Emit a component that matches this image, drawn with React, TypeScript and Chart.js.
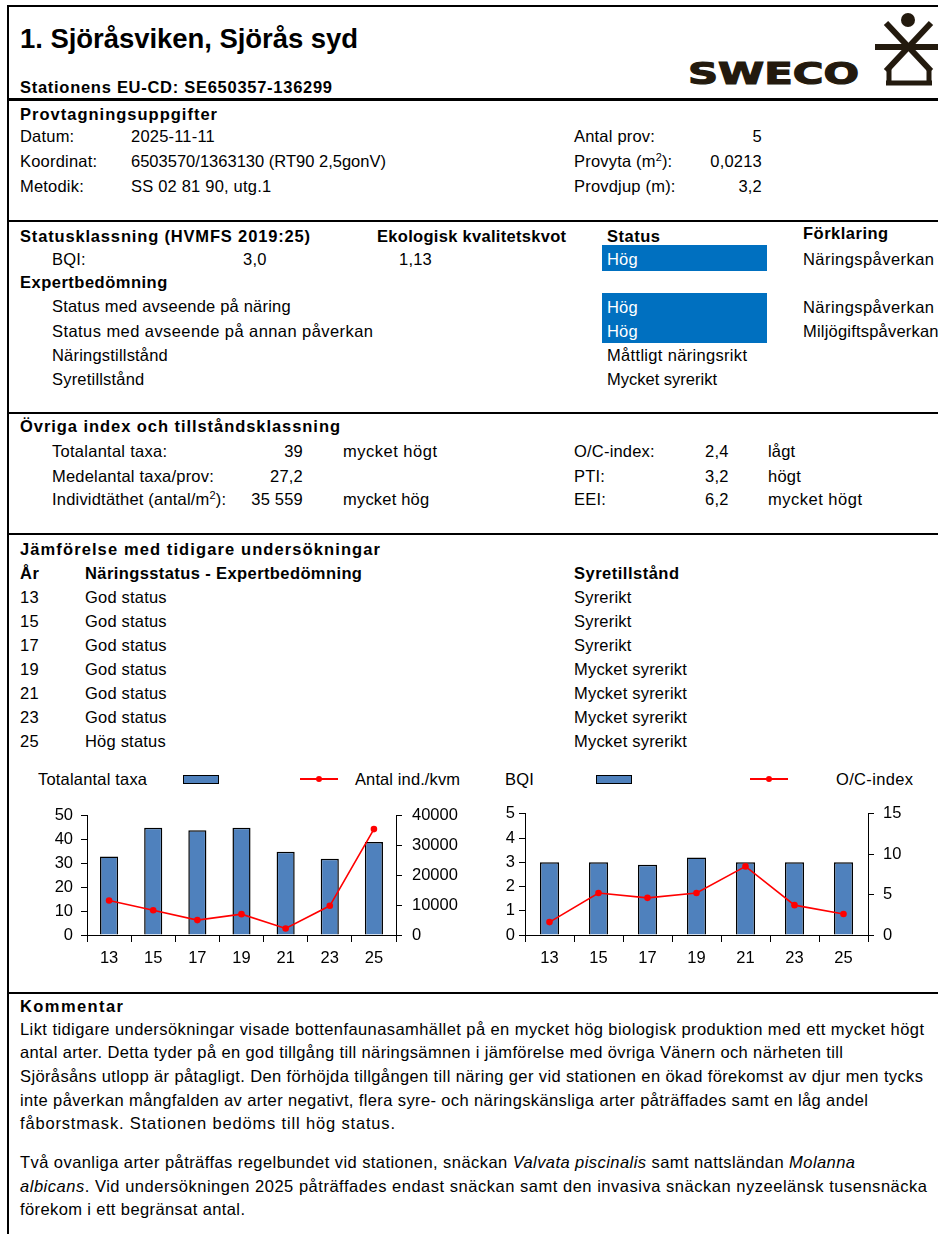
import React, { useEffect, useRef } from "react";
import { Chart, registerables } from "chart.js";

Chart.register(...registerables);

// ---------- data ----------
const YEARS = ["13", "15", "17", "19", "21", "23", "25"];
const TAXA = [33, 45, 44, 45, 35, 32, 39];
const DENSITY = [11600, 8300, 5000, 7000, 2200, 9800, 35559];
const BQI_VALUES = [3.0, 3.0, 2.9, 3.2, 3.0, 3.0, 3.0];
const OC_VALUES = [1.6, 5.2, 4.6, 5.2, 8.5, 3.7, 2.6];

const TAXA_AXIS = [0, 50, 10];
const DENSITY_AXIS = [0, 40000, 10000];
const BQI_AXIS = [0, 5, 1];
const OC_AXIS = [0, 15, 5];

const NARING_STATUS = ["God status", "God status", "God status", "God status", "God status", "God status", "Hög status"];
const SYRE_STATUS = ["Syrerikt", "Syrerikt", "Syrerikt", "Mycket syrerikt", "Mycket syrerikt", "Mycket syrerikt", "Mycket syrerikt"];
const YEAR_ROWS_Y = [597, 621, 645, 669, 693, 717, 741];

const FONT = '"Liberation Sans", Arial, sans-serif';
const BODY = 16.5;
const BLUE = "#0070C0";
const BAR_BLUE = "#4F81BD";

let mctx: CanvasRenderingContext2D | null = null;
function measure(text: string, size: number, bold?: boolean, italic?: boolean) {
  if (!mctx) mctx = document.createElement("canvas").getContext("2d");
  if (!mctx) return text.length * size * 0.5;
  mctx.font = `${italic ? "italic " : ""}${bold ? "bold " : ""}${size}px "Liberation Sans"`;
  return mctx.measureText(text).width;
}

type Seg = { t: string; i?: boolean };

function Txt(props: {
  x: number; y: number; size?: number; bold?: boolean; w?: number; ls?: number;
  right?: boolean; color?: string; text?: string; segs?: Seg[]; children?: any;
}) {
  const size = props.size ?? BODY;
  let ls = props.ls ?? (props.bold ? 0.5 : 0.2);
  const segs: Seg[] | undefined = props.segs ?? (props.text !== undefined ? [{ t: props.text }] : undefined);
  if (props.w && segs) {
    let nat = 0; let n = 0;
    segs.forEach((s) => { nat += measure(s.t, size, props.bold, s.i); n += s.t.length; });
    ls = (props.w - nat) / Math.max(1, n - 1);
  }
  const style: any = {
    position: "absolute",
    left: props.x,
    top: props.y - size * 0.49,
    fontSize: size,
    lineHeight: `${size}px`,
    fontFamily: FONT,
    fontWeight: props.bold ? "bold" : "normal",
    letterSpacing: `${ls}px`,
    whiteSpace: "nowrap",
    color: props.color ?? "#000",
  };
  if (props.right) style.transform = "translateX(-100%)";
  return (
    <div style={style}>
      {segs ? segs.map((s, k) => <span key={k} style={{ fontStyle: s.i ? "italic" : "normal" }}>{s.t}</span>) : props.children}
    </div>
  );
}

const Sup = ({ c }: { c: string }) => (
  <span style={{ fontSize: 11, position: "relative", top: -6, letterSpacing: 0 }}>{c}</span>
);

function HLine({ y, h = 2 }: { y: number; h?: number }) {
  return <div style={{ position: "absolute", left: 8, top: y, width: 930, height: h, background: "#000" }} />;
}

function ComboChart(p: {
  left: number; top: number; width: number; height: number;
  bars: number[]; line: number[]; yAxis: number[]; y1Axis: number[];
  leftW: number; rightW: number; barPct: number; leftPad: number; rightPad: number;
}) {
  const ref = useRef<HTMLCanvasElement>(null);
  useEffect(() => {
    const font = { family: "Liberation Sans", size: 16.5 };
    const chart = new Chart(ref.current as HTMLCanvasElement, {
      type: "bar",
      data: {
        labels: YEARS,
        datasets: [
          {
            type: "line",
            data: p.line,
            yAxisID: "y1",
            borderColor: "#FF0000",
            backgroundColor: "#FF0000",
            borderWidth: 1.6,
            pointRadius: 3.3,
            pointBorderWidth: 0,
            pointBackgroundColor: "#FF0000",
            tension: 0,
            order: 0,
          } as any,
          {
            type: "bar",
            data: p.bars,
            yAxisID: "y",
            backgroundColor: BAR_BLUE,
            borderColor: "#000",
            borderWidth: 1.5,
            barPercentage: p.barPct,
            categoryPercentage: 1,
            order: 1,
          } as any,
        ],
      },
      options: {
        responsive: false,
        animation: false,
        devicePixelRatio: 1,
        layout: { padding: { top: 10, left: 0, right: 0, bottom: 0 } },
        plugins: { legend: { display: false }, tooltip: { enabled: false } },
        scales: {
          x: {
            offset: true,
            grid: { display: true, drawOnChartArea: false, drawTicks: true, tickLength: 7, color: "#000", lineWidth: 1, offset: true },
            border: { display: true, color: "#000", width: 1 },
            ticks: { color: "#000", font, padding: 7, maxRotation: 0, autoSkip: false },
            afterFit: (s: any) => { s.height = 35; },
          },
          y: {
            position: "left",
            min: p.yAxis[0], max: p.yAxis[1],
            ticks: { stepSize: p.yAxis[2], autoSkip: false, color: "#000", font, padding: p.leftPad, callback: (v: any) => String(v) },
            grid: { drawOnChartArea: false, drawTicks: true, tickLength: 6, color: "#000" },
            border: { display: true, color: "#000", width: 1 },
            afterFit: (s: any) => { s.width = p.leftW; },
          },
          y1: {
            position: "right",
            min: p.y1Axis[0], max: p.y1Axis[1],
            ticks: { stepSize: p.y1Axis[2], autoSkip: false, color: "#000", font, padding: p.rightPad, callback: (v: any) => String(v) },
            grid: { drawOnChartArea: false, drawTicks: true, tickLength: 6, color: "#000" },
            border: { display: true, color: "#000", width: 1 },
            afterFit: (s: any) => { s.width = p.rightW; },
          },
        },
      } as any,
    });
    return () => chart.destroy();
  }, []);
  return (
    <canvas
      ref={ref}
      width={p.width}
      height={p.height}
      style={{ position: "absolute", left: p.left, top: p.top, width: p.width, height: p.height }}
    />
  );
}

function Legend(p: { x0: number; label1: string; swX: number; lnX: number; label2X: number; label2: string; w1?: number; w2?: number }) {
  const y = 779;
  return (
    <>
      <Txt x={p.x0} y={y} text={p.label1} w={p.w1} />
      <div style={{ position: "absolute", left: p.swX, top: y - 4, width: 34, height: 7, background: BAR_BLUE, border: "1px solid #000" }} />
      <div style={{ position: "absolute", left: p.lnX, top: y - 1, width: 38, height: 2, background: "#FF0000" }} />
      <div style={{ position: "absolute", left: p.lnX + 16, top: y - 3, width: 6, height: 6, borderRadius: 3, background: "#FF0000" }} />
      <Txt x={p.label2X} y={y} text={p.label2} w={p.w2} />
    </>
  );
}

function Logo() {
  const c = "#231A0E";
  return (
    <svg width={938} height={100} style={{ position: "absolute", left: 0, top: 0 }}>
      <text x={688} y={84} fontFamily='"DejaVu Sans", sans-serif' fontWeight="bold" fontSize={31} fill={c} stroke={c} strokeWidth={1.2} textLength={171} lengthAdjust="spacingAndGlyphs">SWECO</text>
      <circle cx={908} cy={20} r={7} fill={c} />
      <rect x={875} y={44} width={70} height={6} fill={c} />
      <line x1={886} y1={23} x2={931} y2={71} stroke={c} strokeWidth={6} />
      <line x1={931} y1={23} x2={886} y2={71} stroke={c} strokeWidth={6} />
      <line x1={889} y1={68} x2={889} y2={85} stroke={c} strokeWidth={5} />
      <line x1={929} y1={68} x2={929} y2={85} stroke={c} strokeWidth={5} />
      <line x1={886} y1={83} x2={932} y2={83} stroke={c} strokeWidth={5} />
    </svg>
  );
}

export default function App() {
  return (
    <div style={{ position: "absolute", left: 0, top: 0, width: 938, height: 1234, overflow: "hidden", background: "#fff", fontFamily: FONT }}>
      {/* frame */}
      <div style={{ position: "absolute", left: 7, top: 5, width: 2, height: 1229, background: "#000" }} />
      <HLine y={5} h={2} />
      <Logo />

      <Txt x={20} y={38} size={27.5} bold ls={0} w={338} text="1. Sjöråsviken, Sjörås syd" />
      <Txt x={20} y={87.5} bold w={312} text="Stationens EU-CD: SE650357-136299" />
      <HLine y={98} h={3} />

      {/* Provtagningsuppgifter */}
      <Txt x={20} y={114} bold w={197} text="Provtagningsuppgifter" />
      <Txt x={20} y={136} text="Datum:" />
      <Txt x={131} y={136} text="2025-11-11" />
      <Txt x={20} y={161} text="Koordinat:" w={77} />
      <Txt x={131} y={161} text="6503570/1363130 (RT90 2,5gonV)" w={255} />
      <Txt x={20} y={186} text="Metodik:" />
      <Txt x={131} y={186} text="SS 02 81 90, utg.1" />
      <Txt x={574} y={136} text="Antal prov:" />
      <Txt x={762} y={136} right text="5" />
      <Txt x={574} y={161}>Provyta (m<Sup c="2" />):</Txt>
      <Txt x={762} y={161} right text="0,0213" />
      <Txt x={574} y={186} text="Provdjup (m):" />
      <Txt x={762} y={186} right text="3,2" />
      <HLine y={220} h={2} />

      {/* Statusklassning */}
      <Txt x={20} y={236} bold w={290} text="Statusklassning (HVMFS 2019:25)" />
      <Txt x={377} y={236} bold w={189} text="Ekologisk kvalitetskvot" />
      <Txt x={607} y={236} bold text="Status" />
      <Txt x={803} y={233} bold text="Förklaring" />
      <Txt x={52} y={259} text="BQI:" />
      <Txt x={243} y={259} text="3,0" />
      <Txt x={399} y={259} text="1,13" />
      <div style={{ position: "absolute", left: 602, top: 245, width: 165, height: 26, background: BLUE }} />
      <Txt x={607} y={259} color="#fff" text="Hög" />
      <Txt x={803} y={259} w={131} text="Näringspåverkan" />
      <Txt x={20} y={282.5} bold text="Expertbedömning" />
      <Txt x={52} y={306.5} text="Status med avseende på näring" />
      <Txt x={52} y={331} w={321} text="Status med avseende på annan påverkan" />
      <Txt x={52} y={355} text="Näringstillstånd" />
      <Txt x={52} y={379} text="Syretillstånd" />
      <div style={{ position: "absolute", left: 602, top: 293, width: 165, height: 50, background: BLUE }} />
      <Txt x={607} y={307} color="#fff" text="Hög" />
      <Txt x={607} y={331} color="#fff" text="Hög" />
      <Txt x={803} y={307} w={131} text="Näringspåverkan" />
      <Txt x={803} y={331} text="Miljögiftspåverkan" />
      <Txt x={607} y={355} w={140} text="Måttligt näringsrikt" />
      <Txt x={607} y={379} w={110} text="Mycket syrerikt" />
      <HLine y={412} h={2} />

      {/* Övriga index */}
      <Txt x={20} y={426.5} bold w={320} text="Övriga index och tillståndsklassning" />
      <Txt x={52} y={451} w={115} text="Totalantal taxa:" />
      <Txt x={303} y={451} right text="39" />
      <Txt x={343} y={451} w={94} text="mycket högt" />
      <Txt x={52} y={476} text="Medelantal taxa/prov:" />
      <Txt x={303} y={476} right text="27,2" />
      <Txt x={52} y={499.5}>Individtäthet (antal/m<Sup c="2" />):</Txt>
      <Txt x={303} y={499.5} right text="35 559" />
      <Txt x={343} y={499.5} text="mycket hög" />
      <Txt x={574} y={451} text="O/C-index:" />
      <Txt x={705} y={451} text="2,4" />
      <Txt x={768} y={451} text="lågt" />
      <Txt x={574} y={476} text="PTI:" />
      <Txt x={705} y={476} text="3,2" />
      <Txt x={768} y={476} text="högt" />
      <Txt x={574} y={499.5} text="EEI:" />
      <Txt x={705} y={499.5} text="6,2" />
      <Txt x={768} y={499.5} w={94} text="mycket högt" />
      <HLine y={533} h={2} />

      {/* Jämförelse */}
      <Txt x={20} y={549} bold w={360} text="Jämförelse med tidigare undersökningar" />
      <Txt x={20} y={573.5} bold text="År" />
      <Txt x={85} y={573.5} bold ls={0.4} text="Näringsstatus - Expertbedömning" />
      <Txt x={574} y={573.5} bold text="Syretillstånd" />
      {YEARS.map((yr, i) => (
        <React.Fragment key={yr}>
          <Txt x={20} y={YEAR_ROWS_Y[i]} text={yr} />
          <Txt x={85} y={YEAR_ROWS_Y[i]} text={NARING_STATUS[i]} />
          <Txt x={574} y={YEAR_ROWS_Y[i]} text={SYRE_STATUS[i]} />
        </React.Fragment>
      ))}

      {/* charts */}
      <Legend x0={38} label1="Totalantal taxa" w1={109} swX={183} lnX={300} label2X={355} label2="Antal ind./kvm" w2={105} />
      <Legend x0={505} label1="BQI" swX={596} lnX={750} label2X={836} label2="O/C-index" w2={77} />
      <ComboChart
        left={20} top={796} width={450} height={174}
        bars={TAXA} line={DENSITY} yAxis={TAXA_AXIS} y1Axis={DENSITY_AXIS}
        leftW={67} rightW={74} barPct={0.41} leftPad={8} rightPad={10}
      />
      <ComboChart
        left={475} top={795} width={455} height={175}
        bars={BQI_VALUES} line={OC_VALUES} yAxis={BQI_AXIS} y1Axis={OC_AXIS}
        leftW={50} rightW={62} barPct={0.39} leftPad={4} rightPad={9}
      />
      <HLine y={992} h={2} />

      {/* Kommentar */}
      <Txt x={20} y={1006.5} bold w={103} text="Kommentar" />
      <Txt x={20} y={1029} w={904} text="Likt tidigare undersökningar visade bottenfaunasamhället på en mycket hög biologisk produktion med ett mycket högt" />
      <Txt x={20} y={1052.5} w={823} text="antal arter. Detta tyder på en god tillgång till näringsämnen i jämförelse med övriga Vänern och närheten till" />
      <Txt x={20} y={1076.5} w={903} text="Sjöråsåns utlopp är påtagligt. Den förhöjda tillgången till näring ger vid stationen en ökad förekomst av djur men tycks" />
      <Txt x={20} y={1100.5} w={848} text="inte påverkan mångfalden av arter negativt, flera syre- och näringskänsliga arter påträffades samt en låg andel" />
      <Txt x={20} y={1123.5} w={375} text="fåborstmask. Stationen bedöms till hög status." />
      <Txt x={20} y={1162} w={835} segs={[{ t: "Två ovanliga arter påträffas regelbundet vid stationen, snäckan " }, { t: "Valvata piscinalis", i: true }, { t: " samt nattsländan " }, { t: "Molanna", i: true }]} />
      <Txt x={20} y={1186} w={907} segs={[{ t: "albicans", i: true }, { t: ". Vid undersökningen 2025 påträffades endast snäckan samt den invasiva snäckan nyzeelänsk tusensnäcka" }]} />
      <Txt x={20} y={1209.5} w={225} text="förekom i ett begränsat antal." />
    </div>
  );
}
